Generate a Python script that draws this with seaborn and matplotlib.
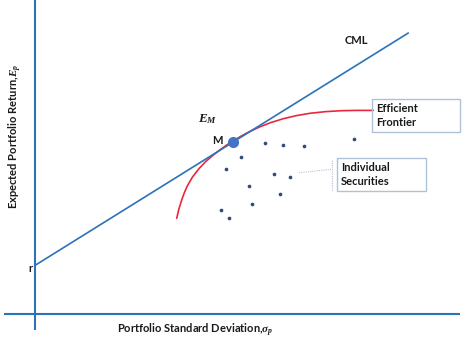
import matplotlib
matplotlib.use("Agg")
import matplotlib.pyplot as plt
from matplotlib.patches import Rectangle
import seaborn as sns
import pandas as pd

# Capital market line: risk-free rate r, market portfolio M, upper end
cml_sigma = [0.0, 19.8, 37.33]
cml_return = [4.86, 17.19, 28.1]

# Market portfolio
m_sigma = [19.8]
m_return = [17.2]

# Efficient frontier (upper branch of the minimum-variance set)
ef_sigma = [14.17, 14.4, 14.67, 14.93, 15.23, 15.75, 16.43, 17.1, 17.83, 18.5,
            19.17, 19.8, 20.6, 21.5, 22.5, 23.6, 24.8, 26.1, 27.5, 29.0,
            30.6, 32.2, 33.83]
ef_return = [9.57, 10.54, 11.4, 12.12, 12.8, 13.7, 14.57, 15.27, 15.9, 16.41,
             16.9, 17.3, 17.78, 18.26, 18.72, 19.15, 19.52, 19.83, 20.07, 20.23,
             20.33, 20.36, 20.36]

# Individual securities
sec_sigma = [22.97, 24.83, 26.9, 31.9, 20.6, 19.1, 23.9, 25.53, 21.43, 24.53,
             21.7, 18.57, 19.37]
sec_return = [17.07, 16.93, 16.77, 17.47, 15.67, 14.53, 14.03, 13.7, 12.8, 11.97,
              11.0, 10.37, 9.57]

sns.set_theme(style="white")
plt.rcParams["font.family"] = ["Lato", "DejaVu Sans"]
plt.rcParams["mathtext.fontset"] = "custom"
plt.rcParams["mathtext.it"] = "Liberation Serif:italic:bold"
plt.rcParams["mathtext.rm"] = "Liberation Serif:bold"
plt.rcParams["mathtext.bf"] = "Liberation Serif:bold"

BLUE = "#2B72B9"
RED = "#E8283E"
DOT = "#34487E"
BOX = "#AFC0DA"
TXT = "#1A1A1A"
FS = 8

fig = plt.figure(figsize=(4.74, 3.43), dpi=100)
ax = fig.add_axes([0, 0, 1, 1])
ax.set_xlim(-3.5, 43.9)
ax.set_ylim(-2.9, 31.4)

# Coordinate axes
ax.plot([0, 0], [-1.6, 31.4], color=BLUE, lw=1.5, solid_capstyle="butt")
ax.plot([-3.1, 42.5], [0, 0], color=BLUE, lw=1.5, solid_capstyle="butt")

cml = pd.DataFrame({"sigma": cml_sigma, "ret": cml_return})
ef = pd.DataFrame({"sigma": ef_sigma, "ret": ef_return})
sec = pd.DataFrame({"sigma": sec_sigma, "ret": sec_return})
mkt = pd.DataFrame({"sigma": m_sigma, "ret": m_return})

sns.lineplot(data=ef, x="sigma", y="ret", sort=False, color=RED, lw=1.2, ax=ax)
sns.lineplot(data=cml, x="sigma", y="ret", sort=False, color=BLUE, lw=1.2, ax=ax)
sns.scatterplot(data=sec, x="sigma", y="ret", color=DOT, s=7, linewidth=0, ax=ax)
sns.scatterplot(data=mkt, x="sigma", y="ret", color="#4472C4", s=64,
                linewidth=0, zorder=5, ax=ax)
ax.set_xlabel("")
ax.set_ylabel("")
ax.axis("off")

# Annotations
ax.text(32.1, 27.4, "CML", fontsize=FS, fontweight="bold", color=TXT,
        ha="center", va="center")
ax.text(18.75, 17.3, "M", fontsize=FS, fontweight="bold", color=TXT,
        ha="right", va="center")
ax.text(17.3, 19.5, r"$E_M$", fontsize=9.5, color=TXT,
        ha="center", va="center")
ax.text(-0.25, 4.6, "r", fontsize=FS, fontweight="bold", color=TXT,
        ha="right", va="center")

ax.text(16.0, -1.6, r"Portfolio Standard Deviation,$\sigma_p$",
        fontsize=FS, fontweight="bold", color=TXT, ha="center", va="center")
ax.text(-2.0, 17.8, r"Expected Portfolio Return,$E_p$",
        fontsize=FS, fontweight="bold", color=TXT, ha="center", va="center",
        rotation=90)

# Callout boxes
ax.add_patch(Rectangle((33.67, 18.23), 8.83, 3.27, fill=False,
                       edgecolor=BOX, lw=1.0, zorder=4))
ax.text(34.15, 19.87, "Efficient\nFrontier", fontsize=FS, fontweight="bold",
        color=TXT, ha="left", va="center", linespacing=1.3)

ax.add_patch(Rectangle((30.17, 12.3), 8.9, 3.27, fill=False,
                       edgecolor=BOX, lw=1.0, zorder=4))
ax.text(30.6, 13.95, "Individual\nSecurities", fontsize=FS, fontweight="bold",
        color=TXT, ha="left", va="center", linespacing=1.3)

# Dotted leader from the securities callout
ax.plot([29.67, 29.67], [12.4, 15.4], color="#B8C2D2", lw=0.8, ls=(0, (1, 1)))
ax.plot([26.4, 29.67], [14.13, 14.47], color="#B8C2D2", lw=0.8, ls=(0, (1, 1)))

fig.savefig("out.png", dpi=100)
